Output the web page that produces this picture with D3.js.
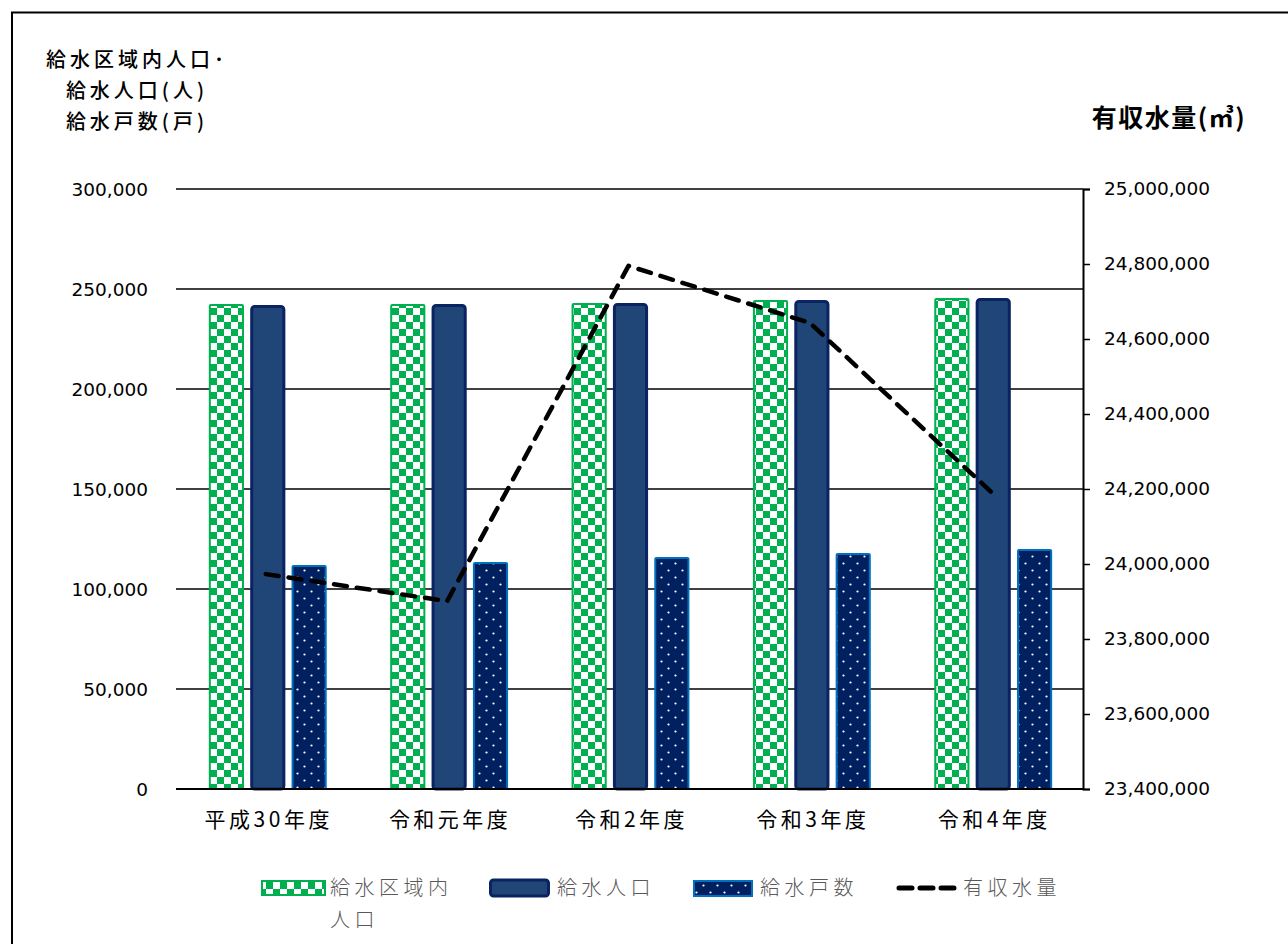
<!DOCTYPE html>
<html><head><meta charset="utf-8">
<script src="https://cdn.jsdelivr.net/npm/d3@7"></script>
<style>
html,body{margin:0;padding:0;background:#fff;}
svg{display:block;}
</style></head>
<body>
<svg id="chart" width="1288" height="944"></svg>
<script>
const categories = ["平成30年度","令和元年度","令和2年度","令和3年度","令和4年度"];
const seriesNames = ["給水区域内人口","給水人口","給水戸数","有収水量"];
const areaPopulation = [242500, 242500, 243000, 244500, 245500];
const servedPopulation = [242000, 242500, 243000, 244500, 245500];
const households = [112000, 113500, 116000, 118000, 120000];
const revenueWater = [23973000, 23901000, 24795000, 24643000, 24192000];
const leftTicks = [0, 50000, 100000, 150000, 200000, 250000, 300000];
const rightTicks = [23400000, 23600000, 23800000, 24000000, 24200000, 24400000, 24600000, 24800000, 25000000];

(function(){
const svg = d3.select("#chart");
const NUMF = "'DejaVu Sans', sans-serif";
const JPF = "'Noto Sans CJK JP', sans-serif";
const fmt = d3.format(",");

// patterns
const defs = svg.append("defs");
const chk = defs.append("pattern").attr("id","checker").attr("patternUnits","userSpaceOnUse")
  .attr("width",14).attr("height",14).attr("x",0).attr("y",0);
chk.append("rect").attr("width",14).attr("height",14).attr("fill","#fff");
chk.append("rect").attr("width",7).attr("height",7).attr("fill","#00B050");
chk.append("rect").attr("x",7).attr("y",7).attr("width",7).attr("height",7).attr("fill","#00B050");

const dots = defs.append("pattern").attr("id","dots").attr("patternUnits","userSpaceOnUse")
  .attr("width",14).attr("height",14);
dots.append("rect").attr("width",14).attr("height",14).attr("fill","#002060");
dots.append("circle").attr("cx",3.5).attr("cy",3.5).attr("r",1.1).attr("fill","#fff");
dots.append("circle").attr("cx",10.5).attr("cy",10.5).attr("r",1.1).attr("fill","#fff");

// frame
svg.append("rect").attr("x",12).attr("y",12.5).attr("width",1300).attr("height",1000)
  .attr("fill","none").attr("stroke","#000").attr("stroke-width",2);

const pl = 178, pr = 1083, pt = 189, pb = 789;
const y = d3.scaleLinear().domain([0,300000]).range([pb, pt]);
const y2 = d3.scaleLinear().domain([23400000,25000000]).range([pb, pt]);
const x0 = d3.scaleBand().domain(categories).range([pl, pr]).paddingInner(0.35).paddingOuter(0.17);
const x1 = d3.scaleBand().domain(seriesNames.slice(0,3)).range([0, x0.bandwidth()]).paddingInner(0.15);

// gridlines
svg.append("g").selectAll("line").data(leftTicks.filter(d=>d>0)).join("line")
  .attr("x1",pl-2).attr("x2",pr).attr("y1",d=>y(d)).attr("y2",d=>y(d))
  .attr("stroke","#000").attr("stroke-width",1.5);

// left tick labels
svg.append("g").selectAll("text").data(leftTicks).join("text")
  .attr("x",148).attr("y",d=>y(d)).attr("dy","0.36em").attr("text-anchor","end")
  .attr("font-family",NUMF).attr("font-size",18.5).attr("fill","#000").text(d=>fmt(d));

// bars
const barData = [
  {name:seriesNames[0], vals:areaPopulation, fill:"url(#checker)", stroke:"#00B050", sw:2, rx:1},
  {name:seriesNames[1], vals:servedPopulation, fill:"#1F4677", stroke:"#0B2461", sw:3, rx:3},
  {name:seriesNames[2], vals:households, fill:"url(#dots)", stroke:"#0070C0", sw:2, rx:1}
];
barData.forEach(s=>{
  svg.append("g").selectAll("rect").data(categories).join("rect")
    .attr("x",(c)=>x0(c)+x1(s.name)+s.sw/2)
    .attr("y",(c,i)=>y(s.vals[i])+s.sw/2)
    .attr("width",x1.bandwidth()-s.sw)
    .attr("height",(c,i)=>pb-y(s.vals[i])-s.sw/2)
    .attr("rx",s.rx)
    .attr("fill",s.fill).attr("stroke",s.stroke).attr("stroke-width",s.sw);
});

// bottom axis line
svg.append("line").attr("x1",pl-2).attr("x2",pr).attr("y1",pb).attr("y2",pb)
  .attr("stroke","#000").attr("stroke-width",2);

// right axis
const rAxis = svg.append("g").attr("transform",`translate(${pr},0)`)
  .call(d3.axisRight(y2).tickValues(rightTicks).tickSize(7).tickFormat(fmt).tickPadding(14));
rAxis.select(".domain").attr("stroke","#000").attr("stroke-width",2);
rAxis.selectAll(".tick line").attr("stroke","#000").attr("stroke-width",1.5);
rAxis.selectAll(".tick text").attr("font-family",NUMF).attr("font-size",18.5).attr("fill","#000");

// category labels
svg.append("g").selectAll("text").data(categories).join("text")
  .attr("x",c=>x0(c)+x0.bandwidth()/2+1).attr("y",819).attr("dy","0.36em")
  .attr("text-anchor","middle").attr("font-family",JPF).attr("font-size",21)
  .attr("letter-spacing",3.5).attr("fill","#000").text(c=>c);

// line
const line = d3.line().x((d,i)=>x0(categories[i])+x0.bandwidth()/2-2).y(d=>y2(d));
svg.append("path").datum(revenueWater).attr("d",line).attr("fill","none")
  .attr("stroke","#000").attr("stroke-width",4.5).attr("stroke-dasharray","13,10")
  .attr("stroke-linecap","round").attr("stroke-linejoin","round");

// left title
const lt = ["給水区域内人口･","給水人口(人)","給水戸数(戸)"];
svg.append("g").selectAll("text").data(lt).join("text")
  .attr("x",137).attr("y",(d,i)=>60+i*31).attr("dy","0.36em").attr("text-anchor","middle")
  .attr("font-family",JPF).attr("font-size",20).attr("font-weight",500)
  .attr("letter-spacing",4).attr("fill","#000").text(d=>d);

// right title
svg.append("text").attr("x",1169).attr("y",118).attr("dy","0.36em").attr("text-anchor","middle")
  .attr("font-family",JPF).attr("font-size",25).attr("font-weight",700).attr("letter-spacing",1.5)
  .attr("fill","#000").text("有収水量(㎥)");

// legend
const lg = svg.append("g");
const ly = 888;
lg.append("rect").attr("x",262).attr("y",ly-7).attr("width",63).attr("height",14)
  .attr("fill","url(#checker)").attr("stroke","#00B050").attr("stroke-width",2);
lg.append("rect").attr("x",490.5).attr("y",ly-8).attr("width",58).attr("height",16).attr("rx",3)
  .attr("fill","#1F4677").attr("stroke","#0B2461").attr("stroke-width",3);
lg.append("rect").attr("x",694).attr("y",ly-7).attr("width",58).attr("height",15)
  .attr("fill","url(#dots)").attr("stroke","#0070C0").attr("stroke-width",2);
lg.append("line").attr("x1",899).attr("x2",955).attr("y1",ly).attr("y2",ly)
  .attr("stroke","#000").attr("stroke-width",5).attr("stroke-dasharray","13,8").attr("stroke-linecap","round");
const legTexts = [
  {x:330, lines:["給水区域内","人口"]},
  {x:557, lines:[seriesNames[1]]},
  {x:760, lines:[seriesNames[2]]},
  {x:963, lines:[seriesNames[3]]}
];
legTexts.forEach(t=>{
  t.lines.forEach((s,i)=>{
    lg.append("text").attr("x",t.x).attr("y",ly+i*32).attr("dy","0.36em")
      .attr("font-family",JPF).attr("font-size",20).attr("font-weight",300).attr("letter-spacing",4.5)
      .attr("fill","#595959").text(s);
  });
});
})();
</script>
</body></html>
